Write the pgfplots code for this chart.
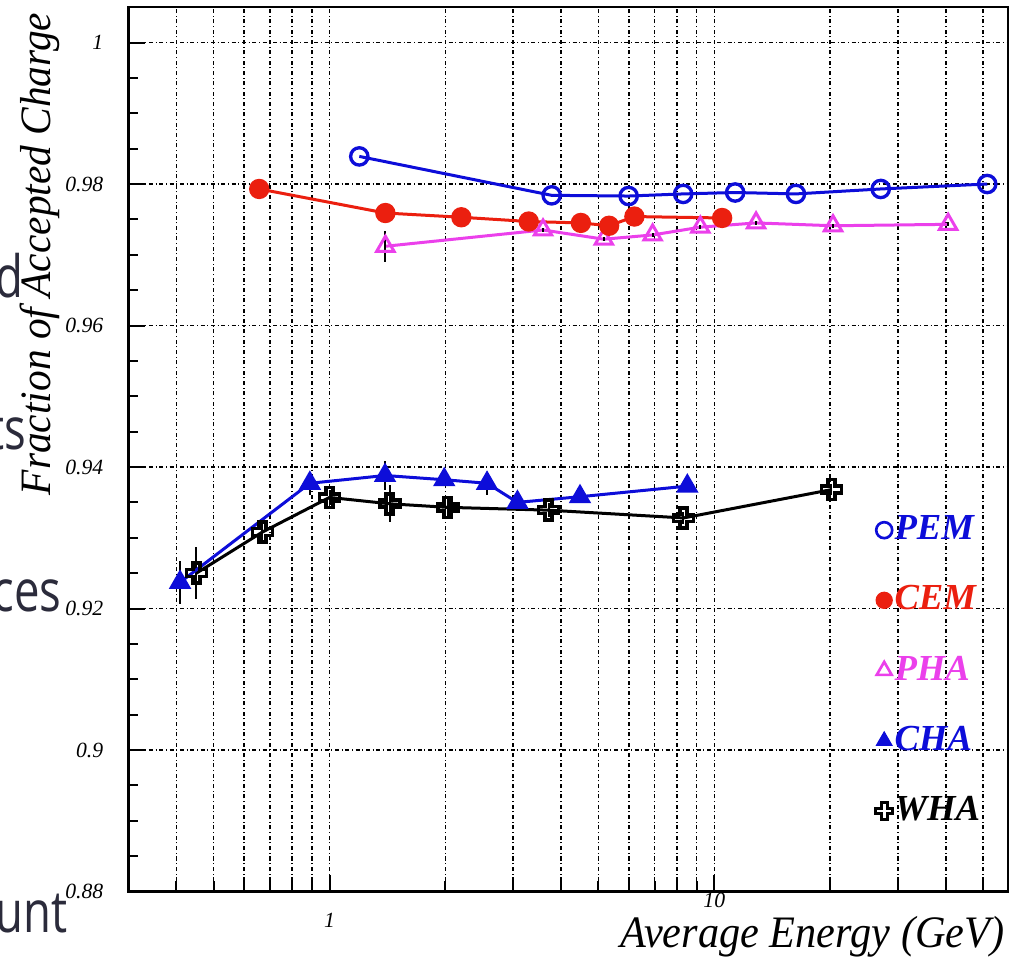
\documentclass[border=0pt]{standalone}
\usepackage{fontspec}
\setmainfont{Liberation Serif}
\newfontfamily\osans{Open Sans}
\usepackage{pgfplots}
\pgfplotsset{compat=1.18}
\definecolor{myblue}{rgb}{0.05,0.05,0.85}
\definecolor{myred}{rgb}{0.92,0.12,0.06}
\definecolor{mymag}{rgb}{0.92,0.25,0.92}
\definecolor{fragc}{rgb}{0.17,0.17,0.23}
\pgfdeclareplotmark{ocross}{%
  \pgfpathmoveto{\pgfqpoint{-0.35\pgfplotmarksize}{\pgfplotmarksize}}%
  \pgfpathlineto{\pgfqpoint{0.35\pgfplotmarksize}{\pgfplotmarksize}}%
  \pgfpathlineto{\pgfqpoint{0.35\pgfplotmarksize}{0.35\pgfplotmarksize}}%
  \pgfpathlineto{\pgfqpoint{\pgfplotmarksize}{0.35\pgfplotmarksize}}%
  \pgfpathlineto{\pgfqpoint{\pgfplotmarksize}{-0.35\pgfplotmarksize}}%
  \pgfpathlineto{\pgfqpoint{0.35\pgfplotmarksize}{-0.35\pgfplotmarksize}}%
  \pgfpathlineto{\pgfqpoint{0.35\pgfplotmarksize}{-\pgfplotmarksize}}%
  \pgfpathlineto{\pgfqpoint{-0.35\pgfplotmarksize}{-\pgfplotmarksize}}%
  \pgfpathlineto{\pgfqpoint{-0.35\pgfplotmarksize}{-0.35\pgfplotmarksize}}%
  \pgfpathlineto{\pgfqpoint{-\pgfplotmarksize}{-0.35\pgfplotmarksize}}%
  \pgfpathlineto{\pgfqpoint{-\pgfplotmarksize}{0.35\pgfplotmarksize}}%
  \pgfpathlineto{\pgfqpoint{-0.35\pgfplotmarksize}{0.35\pgfplotmarksize}}%
  \pgfpathclose\pgfusepathqstroke}
\begin{document}
\begin{tikzpicture}
\useasboundingbox (0,0) rectangle (306.6pt,288pt);
% cut-off fragments of surrounding text
\begin{scope}[every node/.style={inner sep=0pt, text=fragc, font=\osans\fontsize{17.5}{19}\selectfont}]
\node[anchor=base east] at (7.2pt,198.6pt) {\scalebox{0.78}[1]{d}};
\node[anchor=base east] at (8.1pt,153pt) {\scalebox{0.78}[1]{ts}};
\node[anchor=base east] at (18.6pt,104.4pt) {\scalebox{0.78}[1]{ces}};
\node[anchor=base east] at (20.4pt,8.1pt) {\scalebox{0.78}[1]{unt}};
\end{scope}
\begin{axis}[
  at={(38.5pt,20.55pt)}, anchor=south west,
  width=263.9pt, height=265.3pt, scale only axis,
  xmode=log, xmin=0.3, xmax=58,
  ymin=0.88, ymax=1.005,
  xtick={1}, xticklabels={1},
  extra x ticks={10}, extra x tick labels={10},
  extra x tick style={grid=major, xticklabel style={yshift=6pt}},
  minor xtick={0.4,0.5,0.6,0.7,0.8,0.9,2,3,4,5,6,7,8,9,20,30,40,50},
  ytick={0.88,0.9,0.92,0.94,0.96,0.98,1},
  yticklabels={0.88,0.9,0.92,0.94,0.96,0.98,1},
  minor y tick num=3,
  xmajorgrids, xminorgrids, ymajorgrids,
  grid style={black, line width=0.45pt, dash pattern=on 1.2pt off 0.8pt on 0.3pt off 0.8pt},
  minor grid style={black, line width=0.45pt, dash pattern=on 1.2pt off 0.8pt on 0.3pt off 0.8pt},
  tick align=inside, xtick pos=left, ytick pos=left,
  major tick length=5pt, minor tick length=3pt,
  tick style={black, line width=0.6pt},
  axis line style={line width=0.8pt},
  ticklabel style={font=\fontsize{6.5}{7}\selectfont\itshape},
  xticklabel style={yshift=-3pt},
  yticklabel style={xshift=-4pt},
  legend style={draw=none, fill=none, at={(0.849,0.428)}, anchor=north west,
    font=\fontsize{11}{12}\selectfont\bfseries\itshape, row sep=11.1pt, inner sep=0pt,
    nodes={inner sep=0.6pt}},
  legend cell align=left,
  legend image code/.code={\draw[#1] plot coordinates {(0.1cm,0cm)};},
]
\addlegendimage{only marks, mark=o, mark size=2.4pt, draw=myblue, line width=0.8pt}
\addlegendentry{\textcolor{myblue}{PEM}}
\addlegendimage{only marks, mark=*, mark size=2.4pt, draw=myred, fill=myred}
\addlegendentry{\textcolor{myred}{CEM}}
\addlegendimage{only marks, mark=triangle, mark size=2.6pt, draw=mymag, line width=0.8pt}
\addlegendentry{\textcolor{mymag}{PHA}}
\addlegendimage{only marks, mark=triangle*, mark size=2.6pt, draw=myblue, fill=myblue}
\addlegendentry{\textcolor{myblue}{CHA}}
\addlegendimage{only marks, mark=ocross, mark size=2.5pt, draw=black, line width=0.9pt}
\addlegendentry{\textcolor{black}{WHA}}

% WHA
\addplot[forget plot, black, line width=0.9pt, mark=ocross, mark size=3pt,
  mark options={line width=1.1pt},
  error bars/.cd, y dir=both, y explicit, error mark=none,
  error bar style={black, line width=0.6pt}]
coordinates {
(0.451,0.9250) +- (0,0.0037)
(0.669,0.9308) +- (0,0.0015)
(1.0,0.9357) +- (0,0.0010)
(1.434,0.9348) +- (0,0.0026)
(2.028,0.9343) +- (0,0.0015)
(3.709,0.9339) +- (0,0.0010)
(8.316,0.9328) +- (0,0.0008)
(20.15,0.9368) +- (0,0.0008)
};
% CHA
\addplot[forget plot, myblue, line width=0.9pt, mark=triangle*, mark size=3pt,
  mark options={fill=myblue},
  error bars/.cd, y dir=both, y explicit, error mark=none,
  error bar style={black, line width=0.6pt}]
coordinates {
(0.4088,0.9237) +- (0,0.0030)
(0.889,0.9377) +- (0,0.0016)
(1.394,0.9388) +- (0,0.0020)
(1.987,0.9382) +- (0,0.0008)
(2.567,0.9377) +- (0,0.0016)
(3.079,0.9350) +- (0,0.0008)
(4.477,0.9358) +- (0,0.0005)
(8.51,0.9373) +- (0,0.0005)
};
% PHA
\addplot[forget plot, mymag, line width=0.9pt, mark=triangle, mark size=3pt,
  error bars/.cd, y dir=both, y explicit, error mark=none,
  error bar style={black, line width=0.6pt}]
coordinates {
(1.397,0.9712) +- (0,0.0022)
(3.589,0.9735) +- (0,0.0003)
(5.164,0.9722) +- (0,0.0003)
(6.914,0.9728) +- (0,0.0003)
(9.20,0.9739) +- (0,0.0003)
(12.84,0.9745) +- (0,0.0003)
(20.35,0.9741) +- (0,0.0003)
(40.53,0.9743) +- (0,0.0003)
};
% CEM
\addplot[forget plot, myred, line width=0.9pt, mark=*, mark size=2.6pt,
  mark options={fill=myred}]
coordinates {
(0.6565,0.9793) (1.397,0.9759) (2.201,0.9753) (3.294,0.9747)
(4.50,0.9745) (5.33,0.9741) (6.20,0.9754) (10.48,0.9752)
};
% PEM
\addplot[forget plot, myblue, line width=0.9pt, mark=o, mark size=2.6pt,
  mark options={line width=1pt}]
coordinates {
(1.195,0.9839) (3.78,0.9784) (5.99,0.9783) (8.30,0.9786)
(11.33,0.9788) (16.30,0.9786) (27.08,0.9793) (51.2,0.9800)
};
\end{axis}
\node[anchor=base, rotate=90, inner sep=0pt, font=\fontsize{13}{15}\selectfont\itshape] at (15pt,211.8pt) {\scalebox{0.955}[1]{Fraction of Accepted Charge}};
\node[anchor=base east, inner sep=0pt, font=\fontsize{13.5}{15}\selectfont\itshape] at (301.5pt,3.6pt) {\scalebox{0.94}[1]{Average Energy (GeV)}};
\end{tikzpicture}
\end{document}
